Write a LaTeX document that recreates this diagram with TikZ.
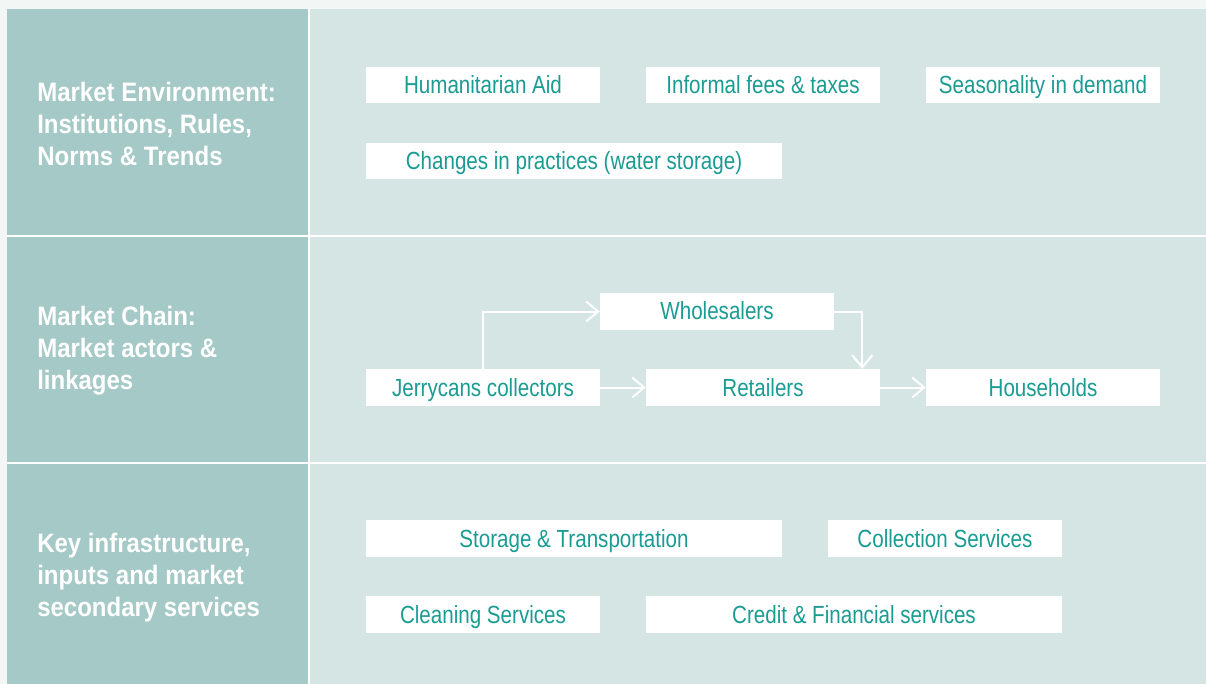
\documentclass[tikz,border=0pt]{standalone}
\usepackage{fontspec}
\setmainfont{Liberation Sans}[FakeStretch=0.83]
\newfontfamily\labelfont{Liberation Sans}[FakeStretch=0.9]
\usetikzlibrary{arrows.meta,positioning,calc}
\definecolor{pagebg}{HTML}{F2F6F5}
\definecolor{labelbg}{HTML}{A4C9C6}
\definecolor{bandbg}{HTML}{D4E5E4}
\definecolor{tealtext}{HTML}{1A9C93}

\begin{document}
\begin{tikzpicture}[
    x=0.75pt, y=-0.75pt,
    every node/.style={
        inner sep=0pt,
    },
    cell/.style={
        fill=white,
        text=tealtext,
        text height=15pt,
        text depth=2.25pt,
        minimum height=27.5pt,
        minimum width=175.5pt,
        font=\fontsize{18.6}{22}\selectfont,
    },
    widecell/.style={
        cell,
        minimum width=312pt,
    },
    rowlabel/.style={
        anchor=west,
        align=left,
        text=white,
        font=\labelfont\fontsize{20}{24}\selectfont\bfseries,
    },
    flow/.style={
        draw=white,
        line width=1.5pt,
        -{Straight Barb[length=9pt,width=15pt,line width=1.5pt]},
    },
]
    \useasboundingbox (0,0) rectangle (1206,684);
    \fill[pagebg] (0,0) rectangle (1206,684);
    % bands
    \fill[labelbg] (7,9) rectangle (309,684);
    \fill[bandbg] (309,9) rectangle (1206,684);
    \draw[white, line width=1.5pt] (7,236.5) -- (1206,236.5);
    \draw[white, line width=1.5pt] (7,462.5) -- (1206,462.5);
    \draw[white, line width=1pt] (309,9) -- (309,684);

    % row labels
    \node[rowlabel] (envlabel) at (37,124) {Market Environment:\\Institutions, Rules,\\Norms \& Trends};
    \node[rowlabel] (chainlabel) at (37,351) {Market Chain:\\Market actors \&\\linkages};
    \node[rowlabel] (infralabel) at (37,578) {Key infrastructure,\\inputs and market\\secondary services};

    % market environment
    \node[cell] (aid) at (483,85) {Humanitarian Aid};
    \node[cell] (fees) at (763,85) {Informal fees \& taxes};
    \node[cell] (season) at (1043,85) {Seasonality in demand};
    \node[widecell] (practices) at (574,161) {Changes in practices (water storage)};

    % market chain
    \node[cell] (wholesale) at (717,311.5) {Wholesalers};
    \node[cell] (collectors) at (483,387.5) {Jerrycans collectors};
    \node[cell] (retail) at (763,387.5) {Retailers};
    \node[cell] (homes) at (1043,387.5) {Households};

    \draw[flow] (collectors.north) |- (wholesale.west);
    \draw[flow] (wholesale.east) -| ($(retail.north east)+(-18,0)$);
    \draw[flow] (collectors) -- (retail);
    \draw[flow] (retail) -- (homes);

    % infrastructure and services
    \node[widecell] (storage) at (574,538.5) {Storage \& Transportation};
    \node[cell] (collection) at (945,538.5) {Collection Services};
    \node[cell] (cleaning) at (483,614.5) {Cleaning Services};
    \node[widecell] (credit) at (854,614.5) {Credit \& Financial services};
\end{tikzpicture}
\end{document}
